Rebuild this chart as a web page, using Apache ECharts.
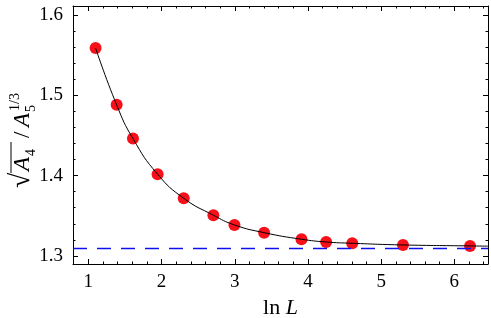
<!DOCTYPE html>
<html><head><meta charset="utf-8">
<script src="https://cdn.jsdelivr.net/npm/echarts@6/dist/echarts.min.js"></script>
<style>html,body{margin:0;padding:0;background:#fff}#c{width:491px;height:318px}</style>
</head><body><div id="c"></div>
<script>
// data
const lnL = [1.0986, 1.3863, 1.6094, 1.9459, 2.3026, 2.7081, 2.9957, 3.4012, 3.9120, 4.2485, 4.6052, 5.2983, 6.2146];
const ratio = [1.5587, 1.4880, 1.4460, 1.4017, 1.3718, 1.3507, 1.3386, 1.3290, 1.3208, 1.3174, 1.3158, 1.3137, 1.3125];
const fitTailX = [6.46];
const fitTailY = [1.3122];
const asymptote = 1.3115;
const xRange = [0.79, 6.46];
const yRange = [1.29, 1.611];

const F = 'Liberation Serif';
const pts = lnL.map((x, i) => [x, ratio[i]]);
const curve = pts.concat(fitTailX.map((x, i) => [x, fitTailY[i]]));

const chart = echarts.init(document.getElementById('c'), null, {renderer: 'canvas'});
const lab = {color: '#000', fontFamily: F, fontSize: 19};
function xAx(pos, show) {
  return {
    type: 'value', position: pos, min: xRange[0], max: xRange[1], splitNumber: 5,
    axisLine: {show: true, onZero: false, lineStyle: {color: '#000', width: 1}},
    axisTick: {show: true, inside: true, length: 5, lineStyle: {color: '#000'}},
    minorTick: {show: true, splitNumber: 5, length: 2.5, lineStyle: {color: '#000'}},
    splitLine: {show: false},
    axisLabel: Object.assign({show: show, margin: 9, showMinLabel: false, showMaxLabel: false,
      formatter: v => Math.abs(v - Math.round(v)) < 1e-6 ? String(Math.round(v)) : ''}, lab),
    name: show ? '{a|ln }{b|L}' : '', nameLocation: 'middle', nameGap: 26,
    nameTextStyle: {rich: {a: {fontFamily: F, fontSize: 22, color: '#000'}, b: {fontFamily: F, fontSize: 22, fontStyle: 'italic', color: '#000'}}}
  };
}
function yAx(pos, show) {
  return {
    type: 'value', position: pos, min: yRange[0], max: yRange[1], splitNumber: 3,
    axisLine: {show: true, onZero: false, lineStyle: {color: '#000', width: 1}},
    axisTick: {show: true, inside: true, length: 5, lineStyle: {color: '#000'}},
    minorTick: {show: true, splitNumber: 5, length: 2.5, lineStyle: {color: '#000'}},
    splitLine: {show: false},
    axisLabel: Object.assign({show: show, margin: 10, showMinLabel: false, showMaxLabel: false,
      formatter: v => Math.abs(v * 10 - Math.round(v * 10)) < 1e-6 ? v.toFixed(1) : ''}, lab)
  };
}
function t(x, y, text, size, italic) {
  return {type: 'text', x: x, y: y, style: {text: text, fontFamily: F, fontSize: size,
    fontStyle: italic ? 'italic' : 'normal', fill: '#000', verticalAlign: 'bottom'}};
}
const sub = 14;
chart.setOption({
  animation: false,
  grid: {left: 73, top: 6, right: 3, bottom: 54, containLabel: false, outerBoundsMode: 'none'},
  xAxis: [xAx('bottom', true), xAx('top', false)],
  yAxis: [yAx('left', true), yAx('right', false)],
  series: [
    {type: 'line', data: curve, smooth: 0.5, showSymbol: false, symbol: 'none',
      lineStyle: {color: '#000', width: 1}, z: 3,
      markLine: {silent: true, symbol: 'none', label: {show: false},
        lineStyle: {color: '#1010ee', type: [14, 10], width: 1.3},
        data: [{yAxis: asymptote}]}},
    {type: 'scatter', data: pts, symbolSize: 12, itemStyle: {color: '#f5101a', opacity: 1}, z: 2}
  ],
  graphic: [{
    type: 'group', x: 31, y: 188, rotation: Math.PI / 2,
    children: [
      t(0, 5, '\u221A', 28, false),
      {type: 'line', shape: {x1: 15, y1: -20, x2: 46, y2: -20}, style: {stroke: '#000', lineWidth: 1}},
      t(17, 3, 'A', 23, true),
      t(32, 7, '4', sub, false),
      t(50, 3, '/', 23, false),
      t(61, 3, 'A', 23, true),
      t(76, 7, '5', sub, false),
      t(77, -9, '1/3', sub, false)
    ]
  }]
});
</script></body></html>
